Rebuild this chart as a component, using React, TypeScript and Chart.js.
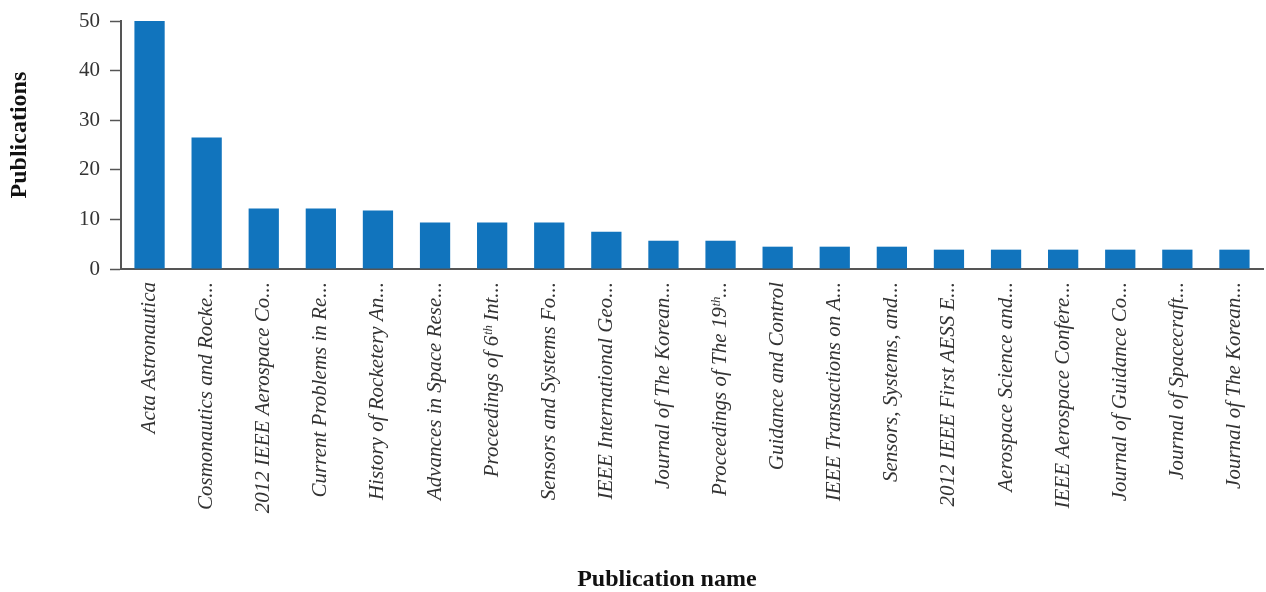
import React, { useEffect, useRef } from "react";
import { Chart, registerables } from "chart.js";

Chart.register(...registerables);

const categories: string[] = [
  "Acta Astronautica",
  "Cosmonautics and Rocke...",
  "2012 IEEE Aerospace Co...",
  "Current Problems in Re...",
  "History of Rocketery An...",
  "Advances in Space Rese...",
  "Proceedings of 6ᵗʰ Int...",
  "Sensors and Systems Fo...",
  "IEEE International Geo...",
  "Journal of The Korean...",
  "Proceedings of The 19ᵗʰ...",
  "Guidance and Control",
  "IEEE Transactions on A...",
  "Sensors, Systems, and...",
  "2012 IEEE First AESS E...",
  "Aerospace Science and...",
  "IEEE Aerospace Confere...",
  "Journal of Guidance Co...",
  "Journal of Spacecraft...",
  "Journal of The Korean...",
];

const publications: number[] = [
  50, 26.5, 12.2, 12.2, 11.8, 9.4, 9.4, 9.4, 7.5, 5.7, 5.7, 4.5, 4.5, 4.5, 3.9, 3.9, 3.9, 3.9, 3.9, 3.9,
];

const yTicks: number[] = [0, 10, 20, 30, 40, 50];

const xTitle = "Publication name";
const yTitle = "Publications";

const FONT = "'Liberation Serif', 'Times New Roman', serif";

const titlesPlugin = {
  id: "axisTitles",
  afterDraw(chart: any) {
    const ctx = chart.ctx;
    const area = chart.chartArea;
    ctx.save();
    ctx.fillStyle = "#111";
    ctx.font = `bold 24px ${FONT}`;
    ctx.textAlign = "center";
    ctx.textBaseline = "middle";
    ctx.fillText(xTitle, area.left + (area.right - area.left) * 0.478, 580);
    ctx.translate(20, area.top + (area.bottom - area.top) * 0.46);
    ctx.rotate(-Math.PI / 2);
    ctx.fillText(yTitle, 0, 0);
    ctx.restore();
  },
};

export default function App() {
  const ref = useRef<HTMLCanvasElement | null>(null);

  useEffect(() => {
    if (!ref.current) return;
    const chart = new Chart(ref.current, {
      type: "bar",
      data: {
        labels: categories,
        datasets: [
          {
            label: "Publications",
            data: publications,
            backgroundColor: "#1174bd",
            borderWidth: 0,
            barPercentage: 0.53,
            categoryPercentage: 1,
          },
        ],
      },
      plugins: [titlesPlugin],
      options: {
        animation: false,
        responsive: false,
        maintainAspectRatio: false,
        layout: { padding: { top: 21, right: 3, left: 0, bottom: 0 } },
        plugins: {
          legend: { display: false },
          tooltip: { enabled: false },
        },
        scales: {
          x: {
            grid: { display: false, drawTicks: false },
            border: { display: true, color: "#555", width: 2 },
            ticks: {
              color: "#333",
              font: { family: FONT, size: 21, style: "italic" },
              minRotation: 90,
              maxRotation: 90,
              autoSkip: false,
              padding: 13,
            },
            afterFit: (scale: any) => {
              scale.height = 323;
              scale.paddingLeft = 0;
              scale.paddingRight = 0;
            },
          },
          y: {
            min: 0,
            max: 50,
            afterBuildTicks: (scale: any) => {
              scale.ticks = yTicks.map((v) => ({ value: v }));
            },
            grid: {
              display: true,
              drawOnChartArea: false,
              drawTicks: true,
              tickLength: 11,
              tickColor: "#555",
              tickWidth: 1.5,
            },
            border: { display: true, color: "#555", width: 2 },
            ticks: {
              color: "#333",
              font: { family: FONT, size: 21 },
              padding: 10,
            },
            afterFit: (scale: any) => {
              scale.width = 121;
              scale.paddingTop = 0;
              scale.paddingBottom = 0;
            },
          },
        },
      },
    });
    return () => chart.destroy();
  }, []);

  return (
    <div style={{ position: "fixed", left: 0, top: 0, width: 1266, height: 592, background: "#fff" }}>
      <canvas ref={ref} width={1266} height={592} style={{ width: 1266, height: 592 }} />
    </div>
  );
}
